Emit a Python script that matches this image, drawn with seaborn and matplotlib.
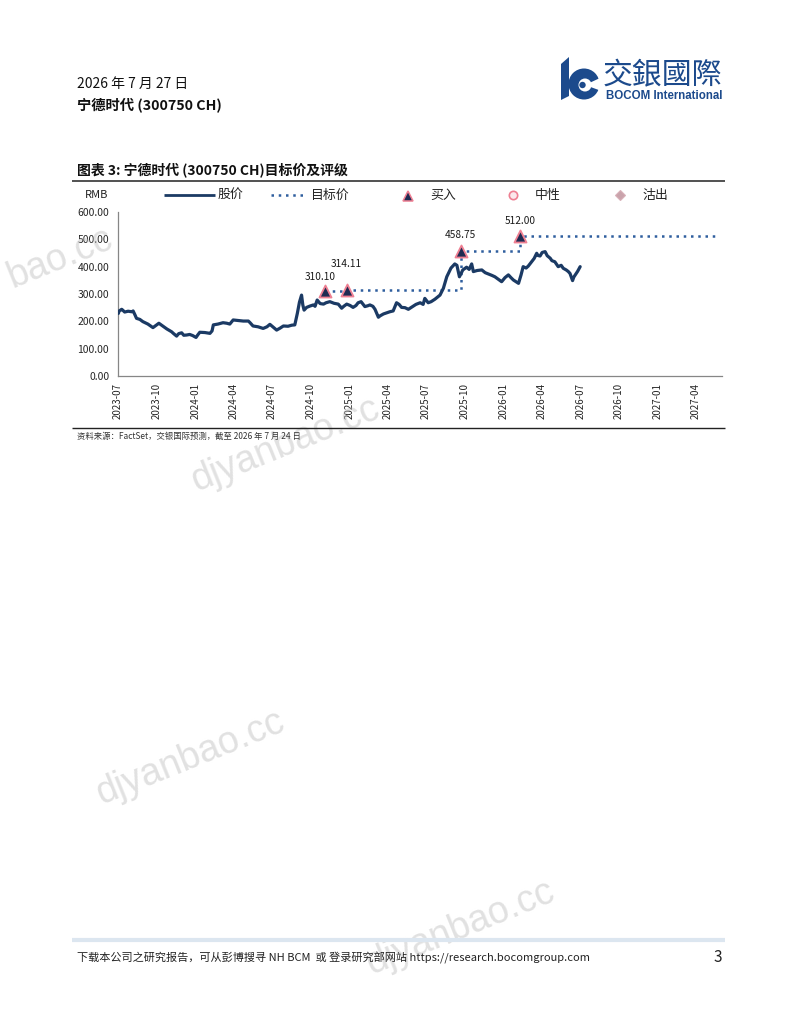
import numpy as np
import pandas as pd
import matplotlib
matplotlib.use("Agg")
import matplotlib.pyplot as plt
import matplotlib.dates as mdates
from matplotlib.ticker import FormatStrFormatter
from matplotlib.patches import Circle, Polygon, Wedge
import seaborn as sns

# ---------------- data ----------------
price_dates = [
    "2023-07-03", "2023-07-05", "2023-07-11", "2023-07-14", "2023-07-18", "2023-07-26",
    "2023-08-04", "2023-08-07", "2023-08-11", "2023-08-15", "2023-08-23", "2023-08-30",
    "2023-09-11", "2023-09-23", "2023-09-30", "2023-10-07", "2023-10-16", "2023-10-26",
    "2023-11-06", "2023-11-11", "2023-11-18", "2023-11-23", "2023-11-30", "2023-12-05",
    "2023-12-12", "2023-12-19", "2023-12-26", "2024-01-03", "2024-01-07", "2024-01-12",
    "2024-01-24", "2024-02-05", "2024-02-10", "2024-02-13", "2024-02-24", "2024-03-07",
    "2024-03-16", "2024-03-23", "2024-03-31", "2024-04-11", "2024-04-24", "2024-05-06",
    "2024-05-10", "2024-05-17", "2024-05-29", "2024-06-10", "2024-06-19", "2024-06-26",
    "2024-07-03", "2024-07-12", "2024-07-20", "2024-07-28", "2024-08-08", "2024-08-17",
    "2024-08-24", "2024-08-30", "2024-09-04", "2024-09-09", "2024-09-12", "2024-09-15",
    "2024-09-21", "2024-09-29", "2024-10-07", "2024-10-11", "2024-10-16", "2024-10-23",
    "2024-10-31", "2024-11-06", "2024-11-15", "2024-11-25", "2024-12-05", "2024-12-13",
    "2024-12-18", "2024-12-25", "2025-01-02", "2025-01-09", "2025-01-16", "2025-01-21",
    "2025-01-28", "2025-02-06", "2025-02-13", "2025-02-18", "2025-02-25", "2025-03-02",
    "2025-03-10", "2025-03-14", "2025-03-22", "2025-03-31", "2025-04-06", "2025-04-14",
    "2025-04-22", "2025-04-28", "2025-05-04", "2025-05-12", "2025-05-20", "2025-05-26",
    "2025-06-01", "2025-06-07", "2025-06-17", "2025-06-24", "2025-06-28", "2025-07-06",
    "2025-07-13", "2025-07-22", "2025-07-29", "2025-08-03", "2025-08-11", "2025-08-19",
    "2025-08-23", "2025-08-29", "2025-09-07", "2025-09-12", "2025-09-18", "2025-09-26",
    "2025-10-05", "2025-10-11", "2025-10-17", "2025-10-21", "2025-10-30", "2025-11-10",
    "2025-11-18", "2025-11-26", "2025-12-04", "2025-12-11", "2025-12-18", "2025-12-27",
    "2026-01-04", "2026-01-12", "2026-01-18", "2026-01-24", "2026-01-30", "2026-02-05",
    "2026-02-11", "2026-02-16", "2026-02-23", "2026-02-28", "2026-03-08", "2026-03-14",
    "2026-03-20", "2026-03-23", "2026-03-28", "2026-04-02", "2026-04-09", "2026-04-14",
    "2026-04-21", "2026-04-25", "2026-05-02", "2026-05-10", "2026-05-17", "2026-05-22",
    "2026-05-29", "2026-06-03", "2026-06-07", "2026-06-13", "2026-06-16", "2026-06-22",
    "2026-06-25", "2026-07-01",
]
price_values = [
    229, 238, 244, 240, 234, 237,
    235, 238, 225, 211, 207, 199,
    190, 177, 185, 193, 183, 172,
    162, 155, 146, 155, 158, 149,
    150, 152, 148, 141, 150, 160,
    159, 156, 165, 187, 190, 195,
    193, 190, 205, 203, 201, 201,
    195, 183, 180, 174, 180, 189,
    180, 168, 175, 183, 182, 186,
    187, 229, 270, 296, 260, 241,
    251, 256, 260, 255, 278, 265,
    263, 268, 272, 266, 263, 248,
    255, 263, 258, 251, 258, 268,
    272, 254, 257, 260, 255, 244,
    215, 220, 227, 232, 235, 238,
    268, 262, 251, 250, 244, 250,
    256, 262, 268, 262, 284, 268,
    272, 281, 290, 296, 321, 363,
    376, 395, 410, 405, 363, 388,
    398, 390, 410, 382, 386, 388,
    378, 373, 368, 363, 355, 345,
    360, 370, 360, 351, 345, 339,
    370, 400, 395, 402, 418, 430,
    449, 441, 439, 452, 455, 440,
    431, 422, 418, 400, 405, 394,
    388, 382, 375, 349, 362, 376,
    383, 400,
]

target_dates = ["2024-11-03", "2024-12-25", "2025-09-21", "2026-02-09", "2027-05-25"]
target_values = [310.10, 314.11, 458.75, 512.00, 512.00]

rating_dates = ["2024-11-03", "2024-12-25", "2025-09-21", "2026-02-09"]
rating_values = [310.10, 314.11, 458.75, 512.00]
rating_labels = ["310.10", "314.11", "458.75", "512.00"]
label_offsets = [(-3, 10), (0, 19), (0, 11), (0, 11)]

y_ticks = [0, 100, 200, 300, 400, 500, 600]

legend_labels = ["股价", "目标价", "买入", "中性", "沽出"]

# ---------------- style ----------------
NAVY = "#1B3A64"
DOTBLUE = "#2F5E9E"
TRI_FACE = "#1E2B52"
PINK = "#EE7F92"
GRAY = "#868686"
LOGO = "#1C4A8C"

sns.set_style("white")
plt.rcParams["font.family"] = ["Noto Sans CJK SC", "DejaVu Sans"]
plt.rcParams["axes.unicode_minus"] = False

fig = plt.figure(figsize=(8, 10.36), dpi=100)
fig.patch.set_facecolor("white")

W, H = 800.0, 1036.0
ax = fig.add_axes([117.5 / W, 1 - 376 / H, (722 - 117.5) / W, (376 - 212) / H])

df = pd.DataFrame({"date": pd.to_datetime(price_dates), "price": price_values})
tdf = pd.DataFrame({"date": pd.to_datetime(target_dates), "target": target_values})
rdf = pd.DataFrame({"date": pd.to_datetime(rating_dates), "value": rating_values})

sns.lineplot(data=df, x="date", y="price", ax=ax, color=NAVY, linewidth=2.3,
             estimator=None, zorder=3)
sns.lineplot(data=tdf, x="date", y="target", ax=ax, color=DOTBLUE, linewidth=1.8,
             linestyle=(0, (1, 1.9)), drawstyle="steps-post", estimator=None, zorder=2)
sns.scatterplot(data=rdf, x="date", y="value", ax=ax, marker="^", s=75,
                color=TRI_FACE, edgecolor=PINK, linewidth=1.3, zorder=5)

for d, v, lab, (dx, dy) in zip(rdf["date"], rating_values, rating_labels, label_offsets):
    ax.annotate(lab, (d, v), xytext=(dx, dy), textcoords="offset points",
                ha="center", va="center", fontsize=7.3, color="#1a1a1a")

ax.set_xlim(pd.Timestamp("2023-07-01"), pd.Timestamp("2027-06-02"))
ax.set_ylim(0, 600)
ax.set_yticks(y_ticks)
ax.yaxis.set_major_formatter(FormatStrFormatter("%.2f"))
ax.xaxis.set_major_locator(mdates.MonthLocator(bymonth=[1, 4, 7, 10]))
ax.xaxis.set_major_formatter(mdates.DateFormatter("%Y-%m"))
ax.xaxis.set_minor_locator(mdates.MonthLocator())
ax.tick_params(axis="x", which="both", direction="out", length=3, width=0.8,
               color=GRAY, labelsize=7, pad=2)
ax.tick_params(axis="x", which="major", labelrotation=90)
ax.tick_params(axis="y", direction="out", length=3, width=0.8, color=GRAY,
               labelsize=7.5, pad=3)
for s in ["top", "right"]:
    ax.spines[s].set_visible(False)
for s in ["left", "bottom"]:
    ax.spines[s].set_color(GRAY)
    ax.spines[s].set_linewidth(0.9)
ax.set_xlabel("")
ax.set_ylabel("")
ax.grid(False)
ax.set_facecolor("none")

# ---------------- page overlay (pixel coordinates) ----------------
pg = fig.add_axes([0, 0, 1, 1], zorder=5)
pg.set_xlim(0, W)
pg.set_ylim(H, 0)
pg.axis("off")
pg.patch.set_alpha(0)

# header
pg.text(77, 84, "2026 年 7 月 27 日", fontsize=10, va="center", ha="left", color="#111111")
pg.text(77, 105, "宁德时代 (300750 CH)", fontsize=10.3, fontweight="bold", va="center",
        ha="left", color="#111111")

# logo
pg.add_patch(Polygon([[561, 64], [569, 57], [569, 96], [561, 100]], closed=True,
                     facecolor=LOGO, edgecolor="none"))
pg.add_patch(Circle((584, 84), 15.5, facecolor=LOGO, edgecolor="none"))
pg.add_patch(Circle((585, 85), 6.5, facecolor="white", edgecolor="none"))
pg.add_patch(Wedge((585, 85), 17, -25, 20, facecolor="white", edgecolor="none"))
pg.add_patch(Circle((582.5, 85), 3.2, facecolor=LOGO, edgecolor="none"))
pg.text(603, 76, "交銀國際", fontsize=21.5, color=LOGO, va="center", ha="left",
        family=["Noto Sans CJK TC", "DejaVu Sans"])
pg.text(606, 96, "BOCOM International", fontsize=8.3, fontweight="bold", color=LOGO,
        va="center", ha="left", family=["Liberation Sans", "DejaVu Sans"])

# chart title and rules
pg.text(77, 170, "图表 3: 宁德时代 (300750 CH)目标价及评级", fontsize=10, fontweight="bold",
        va="center", ha="left", color="#111111")
pg.plot([72, 725], [181, 181], color="#222222", lw=1.1, solid_capstyle="butt")
pg.plot([72, 725], [428, 428], color="#222222", lw=1.0, solid_capstyle="butt")

# legend row
pg.text(85, 195, "RMB", fontsize=8, va="center", ha="left", color="#222222")
pg.plot([164, 215], [195, 195], color=NAVY, lw=2.0, solid_capstyle="butt")
pg.text(218, 195, legend_labels[0], fontsize=9.3, va="center", ha="left", color="#222222")
pg.plot([271, 305], [195, 195], color=DOTBLUE, lw=1.8, linestyle=(0, (1, 1.9)))
pg.text(311, 195, legend_labels[1], fontsize=9.3, va="center", ha="left", color="#222222")
pg.plot([408], [195.5], marker="^", markersize=6.5, color=TRI_FACE, markeredgecolor=PINK,
        markeredgewidth=1.1, linestyle="none")
pg.text(430, 195, legend_labels[2], fontsize=9.3, va="center", ha="left", color="#222222")
pg.plot([513], [195], marker="o", markersize=6, color="#FBE8EC", markeredgecolor=PINK,
        markeredgewidth=1.2, linestyle="none")
pg.text(535, 195, legend_labels[3], fontsize=9.3, va="center", ha="left", color="#222222")
pg.plot([620], [195], marker="D", markersize=5, color="#C9A3AB", markeredgecolor="#D8B0B8",
        markeredgewidth=0.8, linestyle="none")
pg.text(642, 195, legend_labels[4], fontsize=9.3, va="center", ha="left", color="#222222")

# source
pg.text(77, 436, "资料来源：FactSet，交银国际预测，截至 2026 年 7 月 24 日", fontsize=6,
        va="center", ha="left", color="#333333", style="italic")

# footer
pg.plot([72, 725], [940, 940], color="#DCE6F0", lw=3, solid_capstyle="butt")
pg.text(77, 958, "下载本公司之研究报告，可从彭博搜寻 NH BCM  或 登录研究部网站 https://research.bocomgroup.com",
        fontsize=8.0, va="center", ha="left", color="#222222")
pg.text(722, 958, "3", fontsize=11, va="center", ha="right", color="#222222")

# watermarks
for (cx, cy, txt) in [(60, 258, "bao.cc"), (285, 445, "djyanbao.cc"),
                      (190, 758, "djyanbao.cc"), (460, 928, "djyanbao.cc")]:
    pg.text(cx, cy, txt, fontsize=27, rotation=22, color="#BDBDBD", alpha=0.45,
            ha="center", va="center", family=["Liberation Sans", "DejaVu Sans"], zorder=0)

fig.savefig("out.png", dpi=100, facecolor="white")
